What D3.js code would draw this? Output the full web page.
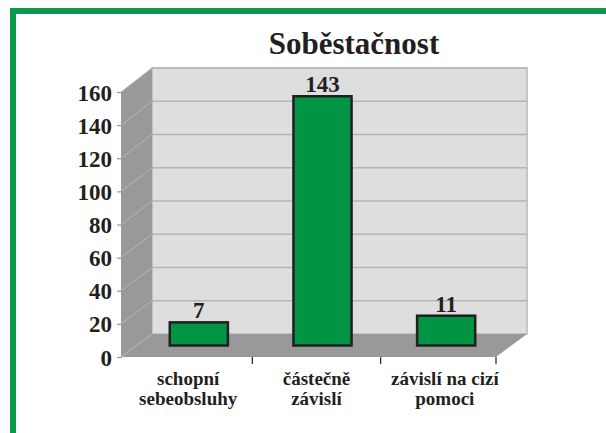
<!DOCTYPE html>
<html lang="cs">
<head>
<meta charset="UTF-8">
<title>Soběstačnost</title>
<script src="https://d3js.org/d3.v7.min.js"></script>
<style>
    body { margin: 0; background: #fff; }
    svg { display: block; }
    .lbl { font-family: "Liberation Serif", serif; font-weight: bold; fill: #231f20; }
</style>
</head>
<body>
<svg id="chart" width="606" height="433"></svg>
<script>
// data
const categories = ["schopní sebeobsluhy", "částečně závislí", "závislí na cizí pomoci"];
const categoryLines = [["schopní", "sebeobsluhy"], ["částečně", "závislí"], ["závislí na cizí", "pomoci"]];
const values = [7, 143, 11];
const yTicks = [0, 20, 40, 60, 80, 100, 120, 140, 160];
const title = "Soběstačnost";

const svg = d3.select("#chart");

// green frame (only top and left edges are inside the picture)
svg.append("rect")
    .attr("x", 13).attr("y", 11)
    .attr("width", 700).attr("height", 500)
    .attr("fill", "none")
    .attr("stroke", "#0a9a4a")
    .attr("stroke-width", 6);

svg.append("text")
    .attr("class", "lbl")
    .attr("x", 354).attr("y", 54)
    .attr("text-anchor", "middle")
    .style("font-size", "31px")
    .text(title);

// 3d box: front plane and back plane
const front = { left: 121, right: 496 };
const back = { left: 152, right: 527 };
const yFront = d3.scaleLinear().domain([0, 160]).range([357, 92]);
const yBack = d3.scaleLinear().domain([0, 160]).range([334, 68]);

const xLabel = d3.scaleBand().domain(categories).range([124, 509]);
const xBar = d3.scaleBand().domain(categories).range([137, 508]);
const barW = xBar.bandwidth() * 0.47;
const floorMid = (yFront(0) + yBack(0)) / 2;

const g = svg.append("g");

// back wall
g.append("rect")
    .attr("x", back.left).attr("y", yBack(160))
    .attr("width", back.right - back.left)
    .attr("height", yBack(0) - yBack(160))
    .attr("fill", "#dedede")
    .attr("stroke", "#b8b8b8")
    .attr("stroke-width", 1.5);

// side wall
g.append("path")
    .attr("d", d3.line()([
        [front.left, yFront(160)], [back.left, yBack(160)],
        [back.left, yBack(0)], [front.left, yFront(0)]
    ]) + "Z")
    .attr("fill", "#999999");

// floor
g.append("path")
    .attr("d", d3.line()([
        [front.left, yFront(0)], [back.left, yBack(0)],
        [back.right, yBack(0)], [front.right, yFront(0)]
    ]) + "Z")
    .attr("fill", "#999999");

// gridlines on back wall and side wall
yTicks.filter(t => t > 0).forEach(t => {
    g.append("line")
        .attr("x1", back.left).attr("x2", back.right)
        .attr("y1", yBack(t)).attr("y2", yBack(t))
        .attr("stroke", "#b4b4b4").attr("stroke-width", 1.5);
});
yTicks.forEach(t => {
    g.append("line")
        .attr("x1", front.left).attr("x2", back.left)
        .attr("y1", yFront(t)).attr("y2", yBack(t))
        .attr("stroke", "#b8b8b8").attr("stroke-width", 1);
});

// y axis
const yAxis = g.append("g")
    .attr("transform", `translate(${front.left},0)`)
    .call(d3.axisLeft(yFront).tickValues(yTicks).tickSize(4).tickPadding(5));
yAxis.select(".domain").attr("stroke", "#999999");
yAxis.selectAll(".tick line").attr("stroke", "#999999").attr("stroke-width", 1.2);
yAxis.selectAll(".tick text")
    .attr("class", "lbl")
    .attr("dy", "0.35em")
    .style("font-size", "23px");

// x axis ticks (inner band edges + floor corner)
const xTickPos = categories.slice(1).map(c => xLabel(c)).concat([front.right]);
g.selectAll(".xtick")
    .data(xTickPos)
    .join("line")
    .attr("x1", d => d).attr("x2", d => d)
    .attr("y1", yFront(0)).attr("y2", yFront(0) + 7)
    .attr("stroke", "#231f20").attr("stroke-width", 1.2);

// bars
g.selectAll(".bar")
    .data(values)
    .join("rect")
    .attr("x", (d, i) => xBar(categories[i]) + xBar.bandwidth() / 2 - barW / 2)
    .attr("y", d => yBack(d))
    .attr("width", barW)
    .attr("height", d => floorMid - yBack(d))
    .attr("fill", "#009444")
    .attr("stroke", "#231f20")
    .attr("stroke-width", 2.5);

// value labels
g.selectAll(".val")
    .data(values)
    .join("text")
    .attr("class", "lbl")
    .attr("x", (d, i) => xBar(categories[i]) + xBar.bandwidth() / 2)
    .attr("y", d => yBack(d) - 4)
    .attr("text-anchor", "middle")
    .style("font-size", "23px")
    .text(d => d);

// category labels
categoryLines.forEach((lines, i) => {
    const t = g.append("text")
        .attr("class", "lbl")
        .attr("text-anchor", "middle")
        .style("font-size", "19px");
    lines.forEach((line, j) => {
        t.append("tspan")
            .attr("x", xLabel(categories[i]) + xLabel.bandwidth() / 2)
            .attr("y", 385 + j * 20)
            .text(line);
    });
});
</script>
</body>
</html>
